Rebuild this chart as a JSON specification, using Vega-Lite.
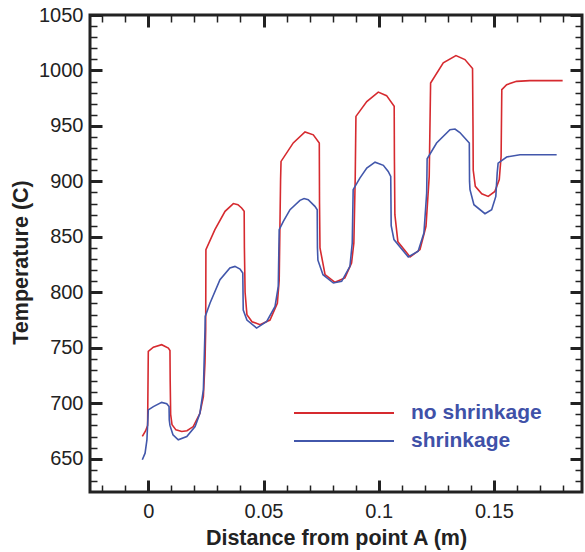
{
  "$schema": "https://vega.github.io/schema/vega-lite/v6.json",
  "width": 492,
  "height": 477,
  "autosize": {"type": "none"},
  "padding": {"left": 90, "top": 15, "right": 3, "bottom": 60},
  "background": "white",
  "config": {
    "view": {"stroke": "#222222", "strokeWidth": 3},
    "font": "Liberation Sans",
    "axis": {"grid": false, "domain": false, "labelFont": "Liberation Sans", "titleFont": "Liberation Sans", "labelColor": "#222222", "titleColor": "#222222", "tickColor": "#222222"}
  },
  "data": {"values": [
    {"s": "no shrinkage", "x": -0.0026, "y": 670.1},
    {"s": "no shrinkage", "x": -0.0012, "y": 675},
    {"s": "no shrinkage", "x": -0.0003, "y": 680},
    {"s": "no shrinkage", "x": 0.0000, "y": 746.7},
    {"s": "no shrinkage", "x": 0.0022, "y": 750.5},
    {"s": "no shrinkage", "x": 0.0058, "y": 752.8},
    {"s": "no shrinkage", "x": 0.0087, "y": 749.8},
    {"s": "no shrinkage", "x": 0.0094, "y": 747.6},
    {"s": "no shrinkage", "x": 0.0095, "y": 720},
    {"s": "no shrinkage", "x": 0.0097, "y": 690},
    {"s": "no shrinkage", "x": 0.0103, "y": 680.6},
    {"s": "no shrinkage", "x": 0.0120, "y": 676},
    {"s": "no shrinkage", "x": 0.0145, "y": 674.6},
    {"s": "no shrinkage", "x": 0.0168, "y": 675.2},
    {"s": "no shrinkage", "x": 0.0195, "y": 679},
    {"s": "no shrinkage", "x": 0.0224, "y": 691},
    {"s": "no shrinkage", "x": 0.0239, "y": 706},
    {"s": "no shrinkage", "x": 0.0246, "y": 736.5},
    {"s": "no shrinkage", "x": 0.0249, "y": 766},
    {"s": "no shrinkage", "x": 0.0250, "y": 838.4},
    {"s": "no shrinkage", "x": 0.0289, "y": 856.5},
    {"s": "no shrinkage", "x": 0.0333, "y": 873},
    {"s": "no shrinkage", "x": 0.0369, "y": 880},
    {"s": "no shrinkage", "x": 0.0389, "y": 879},
    {"s": "no shrinkage", "x": 0.0405, "y": 876},
    {"s": "no shrinkage", "x": 0.0416, "y": 873},
    {"s": "no shrinkage", "x": 0.0417, "y": 840},
    {"s": "no shrinkage", "x": 0.0420, "y": 800},
    {"s": "no shrinkage", "x": 0.0428, "y": 779.8},
    {"s": "no shrinkage", "x": 0.0450, "y": 773.5},
    {"s": "no shrinkage", "x": 0.0485, "y": 770.8},
    {"s": "no shrinkage", "x": 0.0528, "y": 775},
    {"s": "no shrinkage", "x": 0.0560, "y": 790},
    {"s": "no shrinkage", "x": 0.0568, "y": 811},
    {"s": "no shrinkage", "x": 0.0571, "y": 856.5},
    {"s": "no shrinkage", "x": 0.0574, "y": 901.6},
    {"s": "no shrinkage", "x": 0.0576, "y": 918},
    {"s": "no shrinkage", "x": 0.0629, "y": 934.7},
    {"s": "no shrinkage", "x": 0.0680, "y": 944.6},
    {"s": "no shrinkage", "x": 0.0716, "y": 942},
    {"s": "no shrinkage", "x": 0.0742, "y": 934.7},
    {"s": "no shrinkage", "x": 0.0743, "y": 880},
    {"s": "no shrinkage", "x": 0.0745, "y": 840},
    {"s": "no shrinkage", "x": 0.0767, "y": 816},
    {"s": "no shrinkage", "x": 0.0810, "y": 809},
    {"s": "no shrinkage", "x": 0.0853, "y": 813},
    {"s": "no shrinkage", "x": 0.0882, "y": 826.5},
    {"s": "no shrinkage", "x": 0.0892, "y": 844.5},
    {"s": "no shrinkage", "x": 0.0898, "y": 904.5},
    {"s": "no shrinkage", "x": 0.0901, "y": 958.6},
    {"s": "no shrinkage", "x": 0.0948, "y": 972},
    {"s": "no shrinkage", "x": 0.0998, "y": 980.5},
    {"s": "no shrinkage", "x": 0.1034, "y": 977.3},
    {"s": "no shrinkage", "x": 0.1067, "y": 967.7},
    {"s": "no shrinkage", "x": 0.1068, "y": 920},
    {"s": "no shrinkage", "x": 0.1070, "y": 870},
    {"s": "no shrinkage", "x": 0.1083, "y": 845.7},
    {"s": "no shrinkage", "x": 0.1136, "y": 831.9},
    {"s": "no shrinkage", "x": 0.1179, "y": 838.5},
    {"s": "no shrinkage", "x": 0.1205, "y": 859.5},
    {"s": "no shrinkage", "x": 0.1219, "y": 904.5},
    {"s": "no shrinkage", "x": 0.1225, "y": 988.7},
    {"s": "no shrinkage", "x": 0.1280, "y": 1006.8},
    {"s": "no shrinkage", "x": 0.1335, "y": 1013.4},
    {"s": "no shrinkage", "x": 0.1374, "y": 1009.8},
    {"s": "no shrinkage", "x": 0.1407, "y": 1001.7},
    {"s": "no shrinkage", "x": 0.1409, "y": 950},
    {"s": "no shrinkage", "x": 0.1410, "y": 910},
    {"s": "no shrinkage", "x": 0.1419, "y": 895.5},
    {"s": "no shrinkage", "x": 0.1447, "y": 888.9},
    {"s": "no shrinkage", "x": 0.1475, "y": 886.5},
    {"s": "no shrinkage", "x": 0.1504, "y": 891},
    {"s": "no shrinkage", "x": 0.1523, "y": 901.6},
    {"s": "no shrinkage", "x": 0.1531, "y": 922.6},
    {"s": "no shrinkage", "x": 0.1534, "y": 982.7},
    {"s": "no shrinkage", "x": 0.1555, "y": 987.2},
    {"s": "no shrinkage", "x": 0.1598, "y": 990.2},
    {"s": "no shrinkage", "x": 0.1656, "y": 990.8},
    {"s": "no shrinkage", "x": 0.1798, "y": 990.8},
    {"s": "shrinkage", "x": -0.0026, "y": 649.1},
    {"s": "shrinkage", "x": -0.0014, "y": 655},
    {"s": "shrinkage", "x": -0.0006, "y": 667},
    {"s": "shrinkage", "x": 0.0000, "y": 694},
    {"s": "shrinkage", "x": 0.0022, "y": 697},
    {"s": "shrinkage", "x": 0.0058, "y": 700.8},
    {"s": "shrinkage", "x": 0.0080, "y": 699.6},
    {"s": "shrinkage", "x": 0.0090, "y": 697},
    {"s": "shrinkage", "x": 0.0091, "y": 685},
    {"s": "shrinkage", "x": 0.0094, "y": 680},
    {"s": "shrinkage", "x": 0.0107, "y": 671.6},
    {"s": "shrinkage", "x": 0.0130, "y": 667},
    {"s": "shrinkage", "x": 0.0167, "y": 670},
    {"s": "shrinkage", "x": 0.0203, "y": 679},
    {"s": "shrinkage", "x": 0.0224, "y": 691},
    {"s": "shrinkage", "x": 0.0239, "y": 712},
    {"s": "shrinkage", "x": 0.0246, "y": 766},
    {"s": "shrinkage", "x": 0.0247, "y": 778.3},
    {"s": "shrinkage", "x": 0.0268, "y": 790.4},
    {"s": "shrinkage", "x": 0.0311, "y": 811.4},
    {"s": "shrinkage", "x": 0.0354, "y": 822},
    {"s": "shrinkage", "x": 0.0376, "y": 823.4},
    {"s": "shrinkage", "x": 0.0398, "y": 821},
    {"s": "shrinkage", "x": 0.0410, "y": 817.4},
    {"s": "shrinkage", "x": 0.0412, "y": 784},
    {"s": "shrinkage", "x": 0.0428, "y": 775},
    {"s": "shrinkage", "x": 0.0470, "y": 767.8},
    {"s": "shrinkage", "x": 0.0514, "y": 773.8},
    {"s": "shrinkage", "x": 0.0550, "y": 787.3},
    {"s": "shrinkage", "x": 0.0564, "y": 805.4},
    {"s": "shrinkage", "x": 0.0568, "y": 856.5},
    {"s": "shrinkage", "x": 0.0586, "y": 864},
    {"s": "shrinkage", "x": 0.0615, "y": 874.5},
    {"s": "shrinkage", "x": 0.0658, "y": 882.9},
    {"s": "shrinkage", "x": 0.0676, "y": 884.6},
    {"s": "shrinkage", "x": 0.0694, "y": 883.5},
    {"s": "shrinkage", "x": 0.0723, "y": 877.5},
    {"s": "shrinkage", "x": 0.0733, "y": 874.5},
    {"s": "shrinkage", "x": 0.0734, "y": 840},
    {"s": "shrinkage", "x": 0.0736, "y": 829},
    {"s": "shrinkage", "x": 0.0758, "y": 815.9},
    {"s": "shrinkage", "x": 0.0803, "y": 808.4},
    {"s": "shrinkage", "x": 0.0839, "y": 809.9},
    {"s": "shrinkage", "x": 0.0875, "y": 823.4},
    {"s": "shrinkage", "x": 0.0885, "y": 844.5},
    {"s": "shrinkage", "x": 0.0889, "y": 892.5},
    {"s": "shrinkage", "x": 0.0918, "y": 903},
    {"s": "shrinkage", "x": 0.0948, "y": 912},
    {"s": "shrinkage", "x": 0.0984, "y": 917.3},
    {"s": "shrinkage", "x": 0.1020, "y": 914.5},
    {"s": "shrinkage", "x": 0.1041, "y": 909},
    {"s": "shrinkage", "x": 0.1052, "y": 904.5},
    {"s": "shrinkage", "x": 0.1054, "y": 860},
    {"s": "shrinkage", "x": 0.1066, "y": 847.5},
    {"s": "shrinkage", "x": 0.1128, "y": 831.9},
    {"s": "shrinkage", "x": 0.1171, "y": 837},
    {"s": "shrinkage", "x": 0.1196, "y": 853.5},
    {"s": "shrinkage", "x": 0.1208, "y": 889.5},
    {"s": "shrinkage", "x": 0.1210, "y": 920.4},
    {"s": "shrinkage", "x": 0.1251, "y": 934.6},
    {"s": "shrinkage", "x": 0.1309, "y": 946.6},
    {"s": "shrinkage", "x": 0.1331, "y": 947.2},
    {"s": "shrinkage", "x": 0.1352, "y": 944},
    {"s": "shrinkage", "x": 0.1393, "y": 934.6},
    {"s": "shrinkage", "x": 0.1394, "y": 900},
    {"s": "shrinkage", "x": 0.1396, "y": 892.5},
    {"s": "shrinkage", "x": 0.1413, "y": 879},
    {"s": "shrinkage", "x": 0.1461, "y": 870.9},
    {"s": "shrinkage", "x": 0.1490, "y": 874.5},
    {"s": "shrinkage", "x": 0.1508, "y": 886.5},
    {"s": "shrinkage", "x": 0.1514, "y": 907.5},
    {"s": "shrinkage", "x": 0.1518, "y": 916.5},
    {"s": "shrinkage", "x": 0.1555, "y": 922},
    {"s": "shrinkage", "x": 0.1613, "y": 924},
    {"s": "shrinkage", "x": 0.1772, "y": 924}
  ]},
  "layer": [
    {
      "mark": {"type": "point", "opacity": 0},
      "encoding": {
        "x": {"field": "x", "type": "quantitative", "scale": {"domain": [-0.0253, 0.1882], "nice": false, "zero": false},
          "axis": {"orient": "bottom", "values": [-0.02, -0.01, 0.01, 0.02, 0.03, 0.04, 0.06, 0.07, 0.08, 0.09, 0.11, 0.12, 0.13, 0.14, 0.16, 0.17, 0.18], "labels": false, "title": null, "tickSize": -7, "tickWidth": 1.5}},
        "y": {"field": "y", "type": "quantitative", "scale": {"domain": [620, 1050], "nice": false, "zero": false},
          "axis": {"orient": "left", "values": [630, 640, 660, 670, 680, 690, 710, 720, 730, 740, 760, 770, 780, 790, 810, 820, 830, 840, 860, 870, 880, 890, 910, 920, 930, 940, 960, 970, 980, 990, 1010, 1020, 1030, 1040], "labels": false, "title": null, "tickSize": -7, "tickWidth": 1.5}}
      }
    },
    {
      "mark": {"type": "point", "opacity": 0},
      "encoding": {
        "x": {"field": "x", "type": "quantitative",
          "axis": {"orient": "top", "values": [-0.02, -0.01, 0.01, 0.02, 0.03, 0.04, 0.06, 0.07, 0.08, 0.09, 0.11, 0.12, 0.13, 0.14, 0.16, 0.17, 0.18], "labels": false, "title": null, "tickSize": -7, "tickWidth": 1.5}},
        "y": {"field": "y", "type": "quantitative",
          "axis": {"orient": "right", "values": [630, 640, 660, 670, 680, 690, 710, 720, 730, 740, 760, 770, 780, 790, 810, 820, 830, 840, 860, 870, 880, 890, 910, 920, 930, 940, 960, 970, 980, 990, 1010, 1020, 1030, 1040], "labels": false, "title": null, "tickSize": -7, "tickWidth": 1.5}}
      }
    },
    {
      "mark": {"type": "point", "opacity": 0},
      "encoding": {
        "x": {"field": "x", "type": "quantitative",
          "axis": {"orient": "top", "values": [0, 0.05, 0.1, 0.15], "labels": false, "title": null, "tickSize": -12, "tickWidth": 3}},
        "y": {"field": "y", "type": "quantitative",
          "axis": {"orient": "right", "values": [650, 700, 750, 800, 850, 900, 950, 1000, 1050], "labels": false, "title": null, "tickSize": -12, "tickWidth": 3}}
      }
    },
    {
      "mark": {"type": "line", "strokeWidth": 1.6, "interpolate": "linear"},
      "encoding": {
        "x": {"field": "x", "type": "quantitative",
          "axis": {"orient": "bottom", "values": [0, 0.05, 0.1, 0.15], "labelExpr": "'' + datum.value", "labelFontSize": 20, "labelPadding": 21, "tickSize": -12, "tickWidth": 3,
            "title": "Distance from point A (m)", "titleFontSize": 21.5, "titleFontWeight": "bold", "titlePadding": 6}},
        "y": {"field": "y", "type": "quantitative",
          "axis": {"orient": "left", "values": [650, 700, 750, 800, 850, 900, 950, 1000, 1050], "labelExpr": "'' + datum.value", "labelFontSize": 20, "labelPadding": 19, "tickSize": -12, "tickWidth": 3,
            "title": "Temperature (C)", "titleFontSize": 21.5, "titleFontWeight": "bold", "titlePadding": 6, "titleY": 247}},
        "color": {"field": "s", "type": "nominal",
          "scale": {"domain": ["no shrinkage", "shrinkage"], "range": ["#d62a2f", "#4257ab"]},
          "legend": {"orient": "none", "legendX": 203, "legendY": 384, "title": null, "symbolType": "stroke", "symbolSize": 10000, "symbolStrokeWidth": 2, "clipHeight": 28, "rowPadding": 0, "labelFontSize": 21, "labelFontWeight": "bold", "labelColor": "#3f51a8", "labelFont": "Liberation Sans", "labelOffset": 16}},
        "detail": {"field": "s"}
      }
    }
  ],
  "resolve": {"axis": {"x": "independent", "y": "independent"}}
}
